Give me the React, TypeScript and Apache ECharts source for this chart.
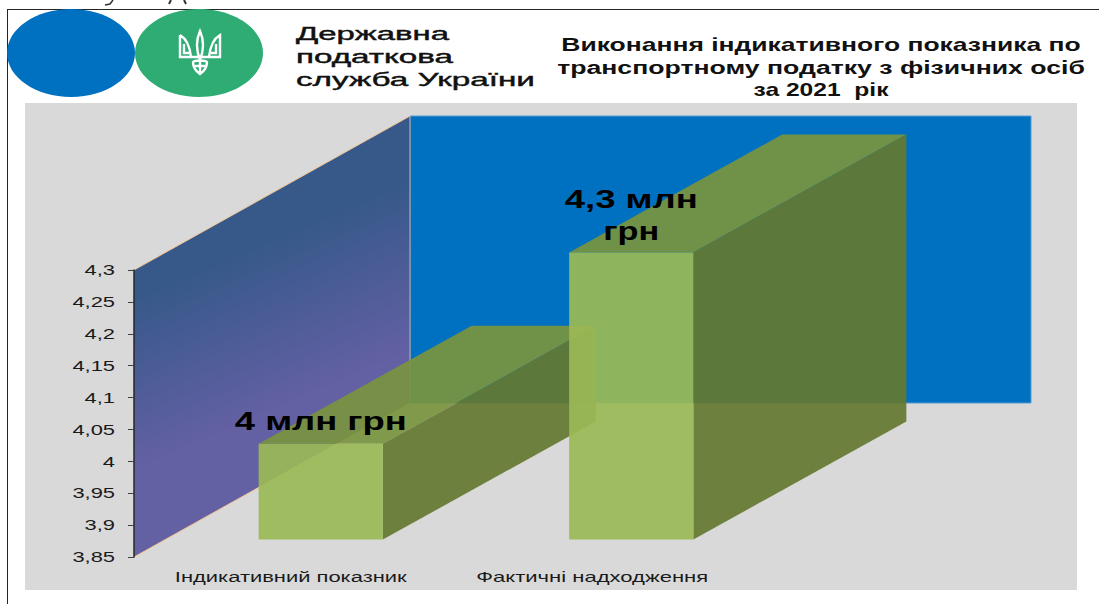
import React, { useEffect, useRef } from "react";
import * as echarts from "echarts";

const categories = ["Індикативний показник", "Фактичні надходження"];
const values = [4, 4.3];
const barLabels = [["4 млн грн"], ["4,3 млн", "грн"]];
const tickValues = [3.85, 3.9, 3.95, 4, 4.05, 4.1, 4.15, 4.2, 4.25, 4.3];
const tickLabels = ["3,85", "3,9", "3,95", "4", "4,05", "4,1", "4,15", "4,2", "4,25", "4,3"];
const orgLines = ["Державна", "податкова", "служба України"];
const titleLines = [
  "Виконання індикативного показника по",
  "транспортному податку з фізичних осіб",
  "за 2021  рік",
];

const FONT = '"Liberation Sans", Arial, sans-serif';
const ctx = document.createElement("canvas").getContext("2d") as CanvasRenderingContext2D;
const stretch = (text: string, size: number, weight: string, width: number) => {
  ctx.font = `${weight} ${size}px ${FONT}`;
  return width / ctx.measureText(text).width;
};

const TRIDENT =
  "M180,35 L180,57 L220,57 L220,35 C213,39 210,48 209,57 M180,35 C187,39 190,48 191,57 " +
  "M184,44 L184,53 L189,53 M216,44 L216,53 L211,53 " +
  "M200,31 C204,40 204,50 200,60 C196,50 196,40 200,31 Z " +
  "M193,62 C193,69 197,72 200,74 C203,72 207,69 207,62 C205,60 195,60 193,62 Z " +
  "M200,60 L200,74 M193,66 L207,66";
echarts.graphic.registerShape("trident", echarts.graphic.extendPath(TRIDENT, {}));

const WALL_DX = 276;
const WALL_DY = -154;
const BAR_OFFSET_DX = 31.5;
const BAR_OFFSET_DY = -17.5;
const BAR_DX = 213;
const BAR_DY = -118;
const BAR_ALPHA = 0.92;
const CATEGORY_LABEL_SHIFT = [1.5, -7.5];
const CATEGORY_LABEL_WIDTH = 232;
const BAR_LABEL_WIDTHS = [[172], [133, 56]];
const BAR_LABEL_POS = [[-23], [-54, -22]];

const poly = (points: number[][], fill: string) => ({
  type: "polygon",
  shape: { points },
  style: { fill, opacity: BAR_ALPHA },
});

const renderWalls = (_p: any, api: any) => {
  const band = api.size([1, 0])[0];
  const [cx, top] = api.coord([0, 4.3]);
  const [, bottom] = api.coord([0, 3.85]);
  const left = cx - band / 2;
  const bl = left + WALL_DX;
  const tp = top + WALL_DY;
  const bt = bottom + WALL_DY;
  return {
    type: "group",
    children: [
      {
        type: "rect",
        shape: { x: bl, y: tp, width: band * 2, height: bt - tp },
        style: { fill: "#0070c0", stroke: "#5b9bd5", lineWidth: 1 },
      },
      {
        type: "polygon",
        shape: { points: [[left, top], [bl, tp], [bl, bt], [left, bottom]] },
        style: {
          fill: new echarts.graphic.LinearGradient(
            left, top + 30, left + 62, top + 174,
            [
              { offset: 0, color: "#37598a" },
              { offset: 1, color: "#6360a3" },
            ],
            true,
          ),
        },
      },
      { type: "line", shape: { x1: bl, y1: tp, x2: bl, y2: bt }, style: { stroke: "#8e9bab", lineWidth: 1.5 } },
      { type: "line", shape: { x1: left, y1: top, x2: bl, y2: tp }, style: { stroke: "#f3c391", lineWidth: 1 } },
      { type: "line", shape: { x1: left, y1: bottom, x2: bl, y2: bt }, style: { stroke: "#f3c391", lineWidth: 1 } },
    ],
  };
};

const renderBar = (p: any, api: any) => {
  const band = api.size([1, 0])[0];
  const i = p.dataIndex;
  const [cx, vy] = api.coord([api.value(0), api.value(1)]);
  const [, by] = api.coord([api.value(0), 3.85]);
  const w = band * 0.4;
  const x0 = cx + BAR_OFFSET_DX - w / 2;
  const x1 = x0 + w;
  const t = vy + BAR_OFFSET_DY;
  const b = by + BAR_OFFSET_DY;
  const children: any[] = [
    poly([[x0, t], [x1, t], [x1 + BAR_DX, t + BAR_DY], [x0 + BAR_DX, t + BAR_DY]], "#78943e"),
    poly([[x1, t], [x1 + BAR_DX, t + BAR_DY], [x1 + BAR_DX, b + BAR_DY], [x1, b]], "#647830"),
    poly([[x0, t], [x1, t], [x1, b], [x0, b]], "#9bba56"),
  ];
  barLabels[i].forEach((line, k) => {
    children.push({
      type: "text",
      x: cx + BAR_OFFSET_DX,
      y: t + BAR_LABEL_POS[i][k],
      scaleX: stretch(line, 26, "bold", BAR_LABEL_WIDTHS[i][k]),
      style: {
        text: line,
        fill: "#000",
        fontFamily: FONT,
        fontSize: 26,
        fontWeight: "bold",
        align: "center",
        verticalAlign: "middle",
      },
    });
  });
  return { type: "group", children };
};

const renderTick = (p: any, api: any) => {
  const band = api.size([1, 0])[0];
  const [cx, y] = api.coord([0, api.value(1)]);
  return {
    type: "text",
    x: cx - band / 2 - 19,
    y,
    scaleX: 1.46,
    style: {
      text: tickLabels[p.dataIndex],
      fill: "#1a1a1a",
      fontFamily: FONT,
      fontSize: 15,
      align: "right",
      verticalAlign: "middle",
    },
  };
};

const renderCategory = (p: any, api: any) => {
  const i = p.dataIndex;
  const [cx, by] = api.coord([i, 3.85]);
  return {
    type: "text",
    x: cx + CATEGORY_LABEL_SHIFT[i],
    y: by + 20,
    scaleX: stretch(categories[i], 15, "normal", CATEGORY_LABEL_WIDTH),
    style: {
      text: categories[i],
      fill: "#1a1a1a",
      fontFamily: FONT,
      fontSize: 15,
      align: "center",
      verticalAlign: "middle",
    },
  };
};

export default function App() {
  const ref = useRef<HTMLDivElement>(null);
  useEffect(() => {
    const chart = echarts.init(ref.current!, undefined, { renderer: "svg" });
    const orgWidths = [153, 157, 239];
    const titleWidths = [520, 528, 135];
    chart.setOption({
      animation: false,
      backgroundColor: "#ffffff",
      grid: { left: 134, top: 270, width: 621, height: 287 },
      xAxis: {
        type: "category",
        data: categories,
        axisLine: { show: false },
        axisTick: { show: false },
        axisLabel: { show: false },
      },
      yAxis: {
        type: "value",
        min: 3.85,
        max: 4.3,
        interval: 0.05,
        z: 5,
        axisLine: { show: true, lineStyle: { color: "#262626", width: 1.5 } },
        axisTick: { show: true, length: 6, lineStyle: { color: "#404040" } },
        axisLabel: { show: false },
        splitLine: { show: false },
      },
      graphic: [
        { type: "rect", shape: { x: 25, y: 103, width: 1052, height: 487 }, style: { fill: "#d9d9d9" } },
        { type: "line", shape: { x1: 7, y1: 9.5, x2: 1099, y2: 9.5 }, style: { stroke: "#262626", lineWidth: 1 } },
        { type: "line", shape: { x1: 7.5, y1: 9, x2: 7.5, y2: 604 }, style: { stroke: "#262626", lineWidth: 1 } },
        { type: "polyline", shape: { points: [[105, 5], [110, 4], [113, 0]] }, style: { stroke: "#333", lineWidth: 1.5, fill: "none" } },
        { type: "polyline", shape: { points: [[169, 4], [171, 0]] }, style: { stroke: "#333", lineWidth: 2, fill: "none" } },
        { type: "polyline", shape: { points: [[186, 4], [184, 0]] }, style: { stroke: "#333", lineWidth: 2, fill: "none" } },
        { type: "ellipse", shape: { cx: 71, cy: 53, rx: 64, ry: 44 }, style: { fill: "#0070c0" } },
        { type: "ellipse", shape: { cx: 199, cy: 53, rx: 64, ry: 44 }, style: { fill: "#2eac73" } },
        { type: "trident", x: 0, y: 0, style: { stroke: "#ffffff", fill: "none", lineWidth: 2.4 } },
        ...orgLines.map((text, i) => ({
          type: "text",
          x: 296,
          y: 33.5 + i * 23,
          scaleX: stretch(text, 18, "normal", orgWidths[i]),
          style: { text, fill: "#111111", stroke: "#111111", lineWidth: 0.4, fontFamily: FONT, fontSize: 18, align: "left", verticalAlign: "middle" },
        })),
        ...titleLines.map((text, i) => ({
          type: "text",
          x: 821,
          y: 45 + i * 22.5,
          scaleX: stretch(text, 18, "bold", titleWidths[i]),
          style: { text, fill: "#111111", fontFamily: FONT, fontSize: 18, fontWeight: "bold", align: "center", verticalAlign: "middle" },
        })),
      ],
      series: [
        { type: "custom", silent: true, renderItem: renderWalls, data: [[0, 4.3]], encode: { x: 0, y: 1 }, z: 2 },
        { type: "custom", silent: true, renderItem: renderBar, data: values.map((v, i) => [i, v]), encode: { x: 0, y: 1 }, z: 3 },
        { type: "custom", silent: true, renderItem: renderTick, data: tickValues.map((v) => [0, v]), encode: { x: 0, y: 1 }, z: 4 },
        { type: "custom", silent: true, renderItem: renderCategory, data: categories.map((_c, i) => [i, 3.85]), encode: { x: 0, y: 1 }, z: 4 },
      ],
    });
    return () => chart.dispose();
  }, []);
  return <div ref={ref} style={{ position: "absolute", left: 0, top: 0, width: 1099, height: 604 }} />;
}
